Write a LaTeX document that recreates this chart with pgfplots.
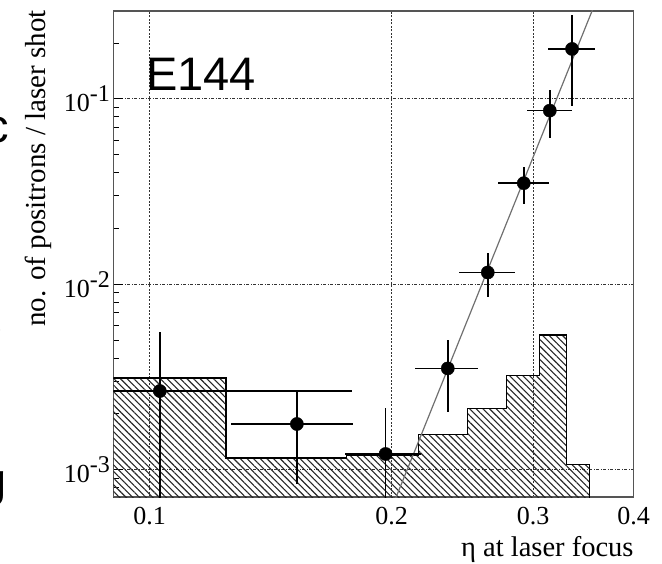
\documentclass[border=0pt]{standalone}
\usepackage{fontspec}
\setmainfont{Liberation Serif}
\newfontfamily\arial{Liberation Sans}
\usepackage{pgfplots}
\pgfplotsset{compat=1.18}
\usetikzlibrary{patterns.meta}
\definecolor{frame}{HTML}{555555}
\definecolor{fitgray}{HTML}{707070}
\newcommand{\ex}[1]{10\raisebox{10pt}{\fontsize{24}{24}\selectfont #1}}
\begin{document}
\begin{tikzpicture}
\begin{axis}[
  at={(0pt,0pt)}, anchor=south west,
  scale only axis, width=520.2pt, height=486pt,
  xmode=log, ymode=log,
  xmin=0.0902, xmax=0.4, ymin=7.12e-4, ymax=0.298,
  xtick={0.1,0.2,0.3,0.4}, xticklabels={0.1,0.2,0.3,0.4},
  minor xtick={},
  ytick={1e-3,1e-2,1e-1}, yticklabels={\ex{-3},\ex{-2},\ex{-1}},
  minor ytick={8e-4,9e-4,2e-3,3e-3,4e-3,5e-3,6e-3,7e-3,8e-3,9e-3,2e-2,3e-2,4e-2,5e-2,6e-2,7e-2,8e-2,9e-2,2e-1},
  ytick pos=left, tick align=inside,
  xtick style={draw=none},
  major tick length=10pt, minor tick length=6pt,
  ytick style={black, line width=1pt},
  xmajorgrids, ymajorgrids,
  x grid style={black!80, line width=1pt, dash pattern=on 2pt off 1.5pt},
  y grid style={black!80, line width=1pt, dash pattern=on 3pt off 1.5pt on 1pt off 1.5pt},
  axis line style={frame, line width=1.5pt},
  tick label style={font=\fontsize{26}{26}\selectfont},
  xticklabel style={yshift=-7pt},
  xlabel={η at laser focus},
  every axis x label/.style={at={(rel axis cs:1,0)}, anchor=base east, yshift=-59.7pt, inner sep=0pt, font=\fontsize{28.5}{28.5}\selectfont},
]
% background histogram (hatched)
\addplot[const plot mark left, black, line width=1.2pt,
  pattern={Lines[angle=-45, distance=4.7pt, line width=1.1pt]}, pattern color=black!85]
  coordinates {(0.085,1e-4) (0.085,0.003121) (0.1245,0.001156) (0.1757,0.00119) (0.2159,0.001544)
               (0.2488,0.00214) (0.2779,0.003212) (0.3053,0.00532) (0.3300,0.001064) (0.3524,0.001064) (0.3524,1e-4)} -- cycle;
% power-law fit
\addplot[fitgray, line width=1.2pt] coordinates {(0.1961,5e-4) (0.3649,0.4)};
% measured points
\addplot[only marks, mark=*, mark size=6.6pt, black,
  error bars/.cd, x dir=both, y dir=both, x explicit, y explicit, error mark=none,
  error bar style={line width=1.6pt, black}]
  table[x=x, y=y, x error minus=xm, x error plus=xp, y error minus=ym, y error plus=yp, row sep=\\] {
  x y xm xp ym yp \\
  0.1030 0.002656 0.0230 0.0755 0.002156 0.00289 \\
  0.1525 0.001763 0.0264 0.0266 0.000923 0.000937 \\
  0.1966 0.001215 0.0218 0.0211 0.000715 0.000935 \\
  0.2349 0.003517 0.0209 0.0215 0.00147 0.001504 \\
  0.2634 0.01158 0.0209 0.0212 0.00302 0.00315 \\
  0.2920 0.0351 0.0206 0.0223 0.00794 0.00773 \\
  0.3146 0.08648 0.0198 0.0207 0.0251 0.0253 \\
  0.3353 0.186 0.0226 0.0224 0.0943 0.0976 \\
};
\node[anchor=base west, inner sep=0pt, font=\arial\fontsize{47}{47}\selectfont] at (rel axis cs:0.0625,0.836) {E144};
\end{axis}
\node[rotate=90, anchor=north east, inner sep=0pt, font=\fontsize{29}{29}\selectfont] at (-89pt,487pt) {no. of positrons / laser shot};
% slide text cut off at the left edge
\node[anchor=base east, inner sep=0pt, font=\arial\fontsize{47}{47}\selectfont] at (-104.5pt,354pt) {c};
\node[anchor=base east, inner sep=0pt, font=\arial\fontsize{47}{47}\selectfont] at (-110.5pt,154pt) {e};
\node[anchor=base east, inner sep=0pt, font=\arial\fontsize{47}{47}\selectfont] at (-106.5pt,0pt) {g};
\pgfresetboundingbox
\useasboundingbox (-113.5pt,-67pt) rectangle (548.5pt,497pt);
\end{tikzpicture}
\end{document}
